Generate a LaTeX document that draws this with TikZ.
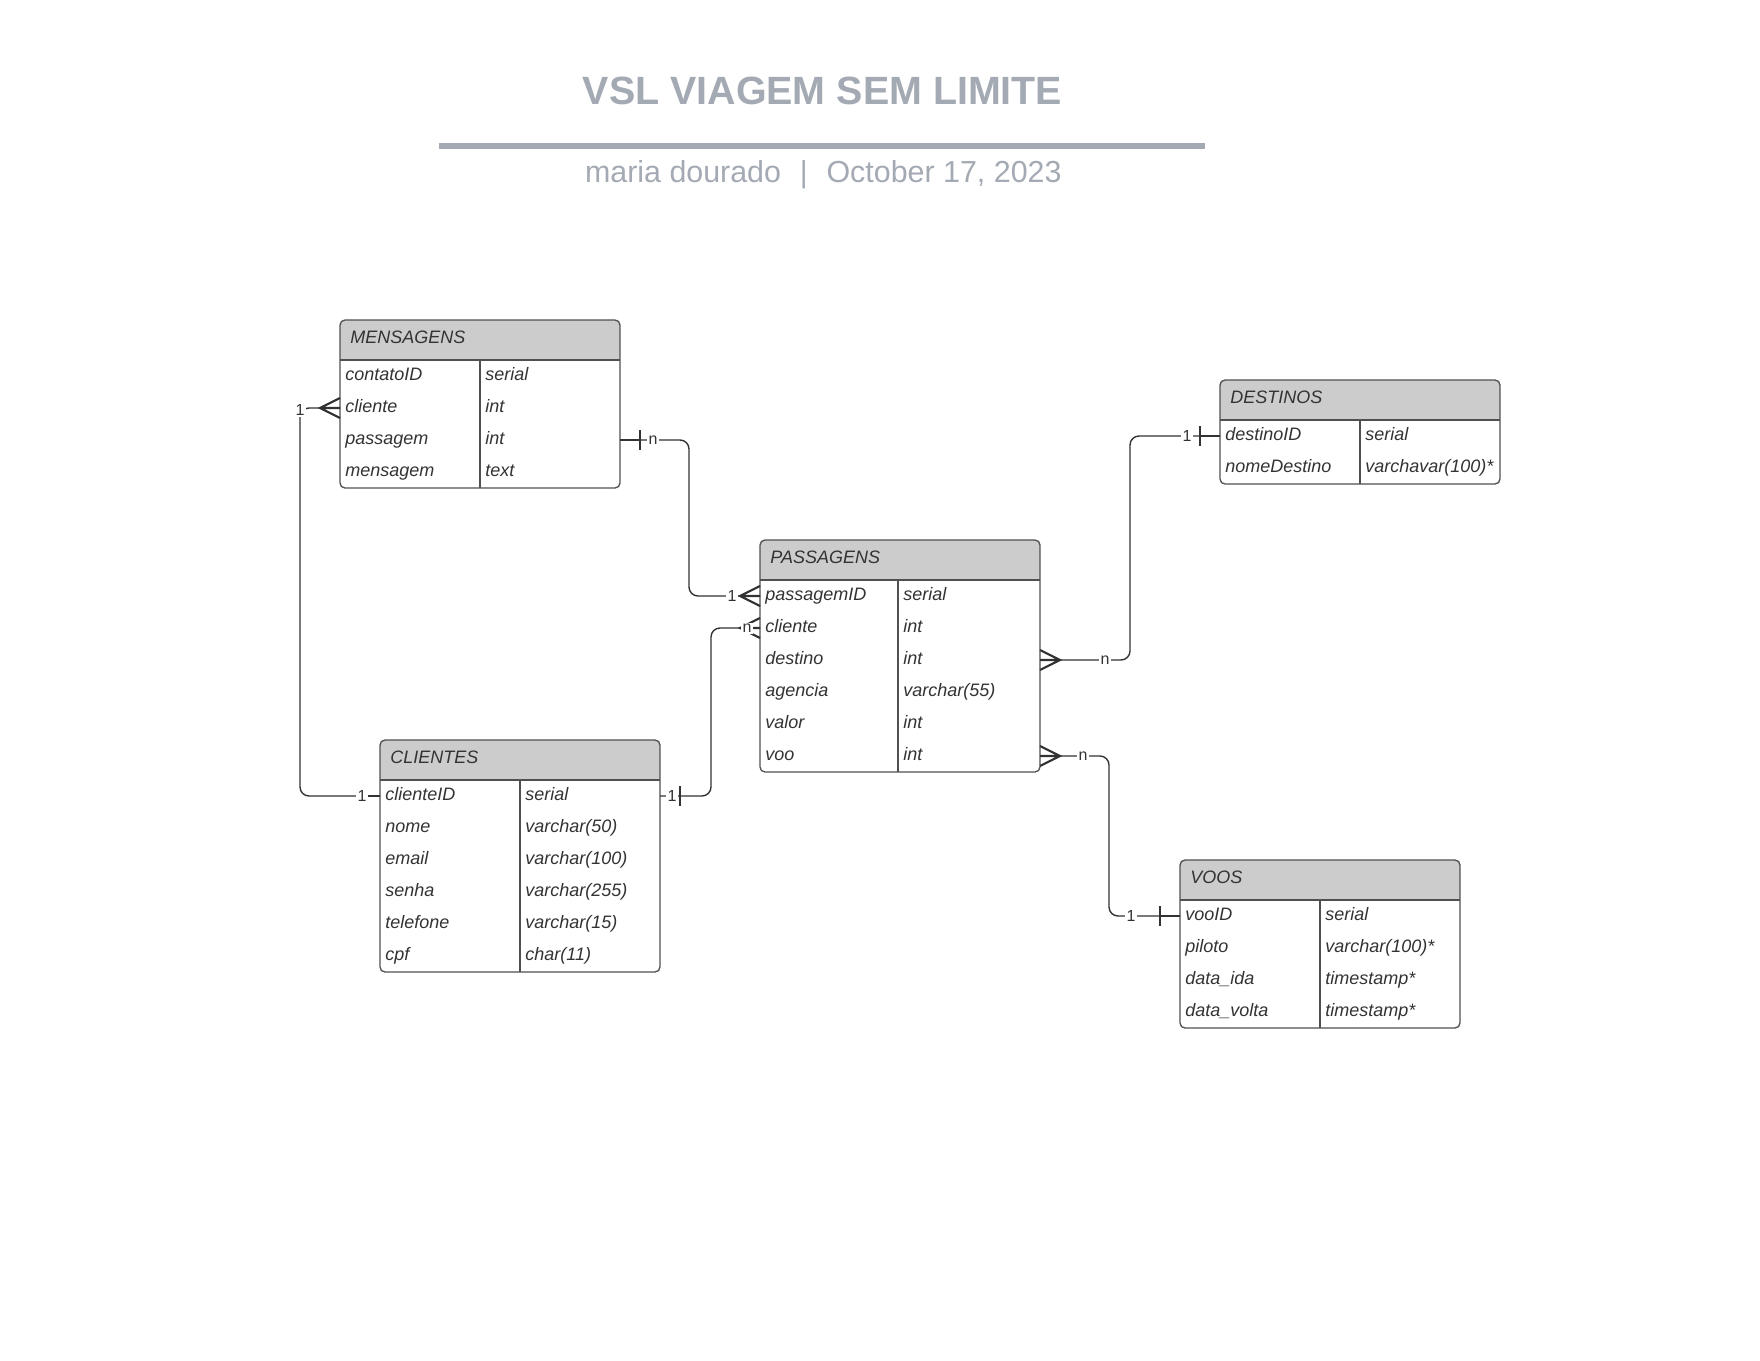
\documentclass[tikz,border=0pt]{standalone}
\usepackage{fontspec}
\setmainfont{Liberation Sans}
\definecolor{titlegray}{RGB}{164,170,180}
\definecolor{hdrgray}{RGB}{204,204,204}
\definecolor{txtgray}{RGB}{51,51,51}
\definecolor{linegray}{RGB}{80,80,80}
\tikzset{
  tabborder/.style={draw=linegray, line width=0.65pt},
  celltext/.style={anchor=base west, inner sep=0pt, font=\fontsize{9}{10}\selectfont\itshape, text=txtgray},
  conn/.style={draw=txtgray, line width=0.7pt, rounded corners=4.5pt},
  symb/.style={draw=txtgray, line width=1.1pt},
  card/.style={fill=white, inner sep=0.6pt, font=\fontsize{8}{9}\selectfont, text=txtgray},
}
% #1 name, #2 x, #3 y, #4 rows, #5 divider offset, #6 title, #7 field/type list
\newcommand\ertab[7]{%
  \begin{scope}
    \clip[rounded corners=2.5pt] (#2,#3) rectangle ({#2+280},{#3+40+32*#4});
    \fill[hdrgray] (#2,#3) rectangle ({#2+280},{#3+40});
  \end{scope}
  \draw[tabborder, rounded corners=2.5pt] (#2,#3) rectangle ({#2+280},{#3+40+32*#4});
  \draw[tabborder] (#2,{#3+40}) -- ({#2+280},{#3+40});
  \draw[tabborder] ({#2+#5},{#3+40}) -- ({#2+#5},{#3+40+32*#4});
  \node[celltext] (#1-title) at ({#2+10},{#3+23.5}) {#6};
  \foreach \fa/\fb [count=\i] in {#7}{
    \node[celltext] (#1-\i-name) at ({#2+5},{#3+40+32*\i-12}) {\fa};
    \node[celltext] (#1-\i-type) at ({#2+#5+5},{#3+40+32*\i-12}) {\fb};
    \coordinate (#1-\i-W) at (#2,{#3+40+32*\i-16});
    \coordinate (#1-\i-E) at ({#2+280},{#3+40+32*\i-16});
  }%
}
\newcommand\crowW[1]{\draw[symb, shift={(#1)}] (0,-10) -- (-20,0) -- (0,10) (-20,0) -- (0,0);}
\newcommand\crowE[1]{\draw[symb, shift={(#1)}] (0,-10) -- (20,0) -- (0,10) (20,0) -- (0,0);}
\newcommand\barW[1]{\draw[symb, shift={(#1)}] (0,0) -- (-20,0) (-20,-10) -- (-20,10);}
\newcommand\barE[1]{\draw[symb, shift={(#1)}] (0,0) -- (20,0) (20,-10) -- (20,10);}
\begin{document}
\begin{tikzpicture}[x=0.5pt, y=-0.5pt]
  \fill[white] (0,0) rectangle (1760,1360);
  \useasboundingbox (0,0) rectangle (1760,1360);

  % heading
  \node[anchor=base, inner sep=0pt, text=titlegray, font=\fontsize{19.7}{22}\selectfont\bfseries] (title) at (822.5,104) {VSL VIAGEM SEM LIMITE};
  \draw[titlegray, line width=3.3pt] (439,146) -- (1205,146);
  \node[anchor=base, inner sep=0pt, text=titlegray, font=\fontsize{15.2}{18}\selectfont] (subtitle) at (823.3,182.7) {maria dourado\hspace{9.4pt}|\hspace{9.4pt}October 17, 2023};

  % tables
  \ertab{mens}{340}{320}{4}{140}{MENSAGENS}{contatoID/serial, cliente/int, passagem/int, mensagem/text}
  \ertab{pass}{760}{540}{6}{138}{PASSAGENS}{passagemID/serial, cliente/int, destino/int, agencia/varchar(55), valor/int, voo/int}
  \ertab{cli}{380}{740}{6}{140}{CLIENTES}{clienteID/serial, nome/varchar(50), email/varchar(100), senha/varchar(255), telefone/varchar(15), cpf/char(11)}
  \ertab{dest}{1220}{380}{2}{140}{DESTINOS}{destinoID/serial, nomeDestino/varchavar(100)*}
  \ertab{voos}{1180}{860}{4}{140}{VOOS}{vooID/serial, piloto/varchar(100)*, data\_ida/timestamp*, data\_volta/timestamp*}

  % connectors
  \draw[conn] (mens-3-E) -- ++(69,0) |- (pass-1-W);
  \draw[conn] (cli-1-E) -- ++(51,0) |- (pass-2-W);
  \draw[conn] (cli-1-W) -- ++(-80,0) |- (mens-2-W);
  \draw[conn] (pass-3-E) -- ++(90,0) |- (dest-1-W);
  \draw[conn] (pass-6-E) -- ++(69,0) |- (voos-1-W);

  % end symbols
  \crowW{pass-1-W}
  \crowW{pass-2-W}
  \crowW{mens-2-W}
  \crowE{pass-3-E}
  \crowE{pass-6-E}
  \barE{mens-3-E}
  \barW{dest-1-W}
  \barW{voos-1-W}
  \draw[symb] (cli-1-W) -- ++(-12,0);

  % cardinality labels
  \node[card] (c1) at (653,440) {n};
  \node[card] (c2) at (732,596) {1};
  \node[card] (c3) at (672,796) {1};
  \node[card] (c4) at (747,628) {n};
  \node[card] (c5) at (362,796) {1};
  \node[card] (c6) at (300,410) {1};
  \node[card] (c7) at (1105,660) {n};
  \node[card] (c8) at (1187,436) {1};
  \node[card] (c9) at (1083,756) {n};
  \node[card] (c10) at (1131,916) {1};

  % bar drawn over its label
  \draw[symb, shift={(cli-1-E)}] (20,-10) -- (20,10);
\end{tikzpicture}
\end{document}
